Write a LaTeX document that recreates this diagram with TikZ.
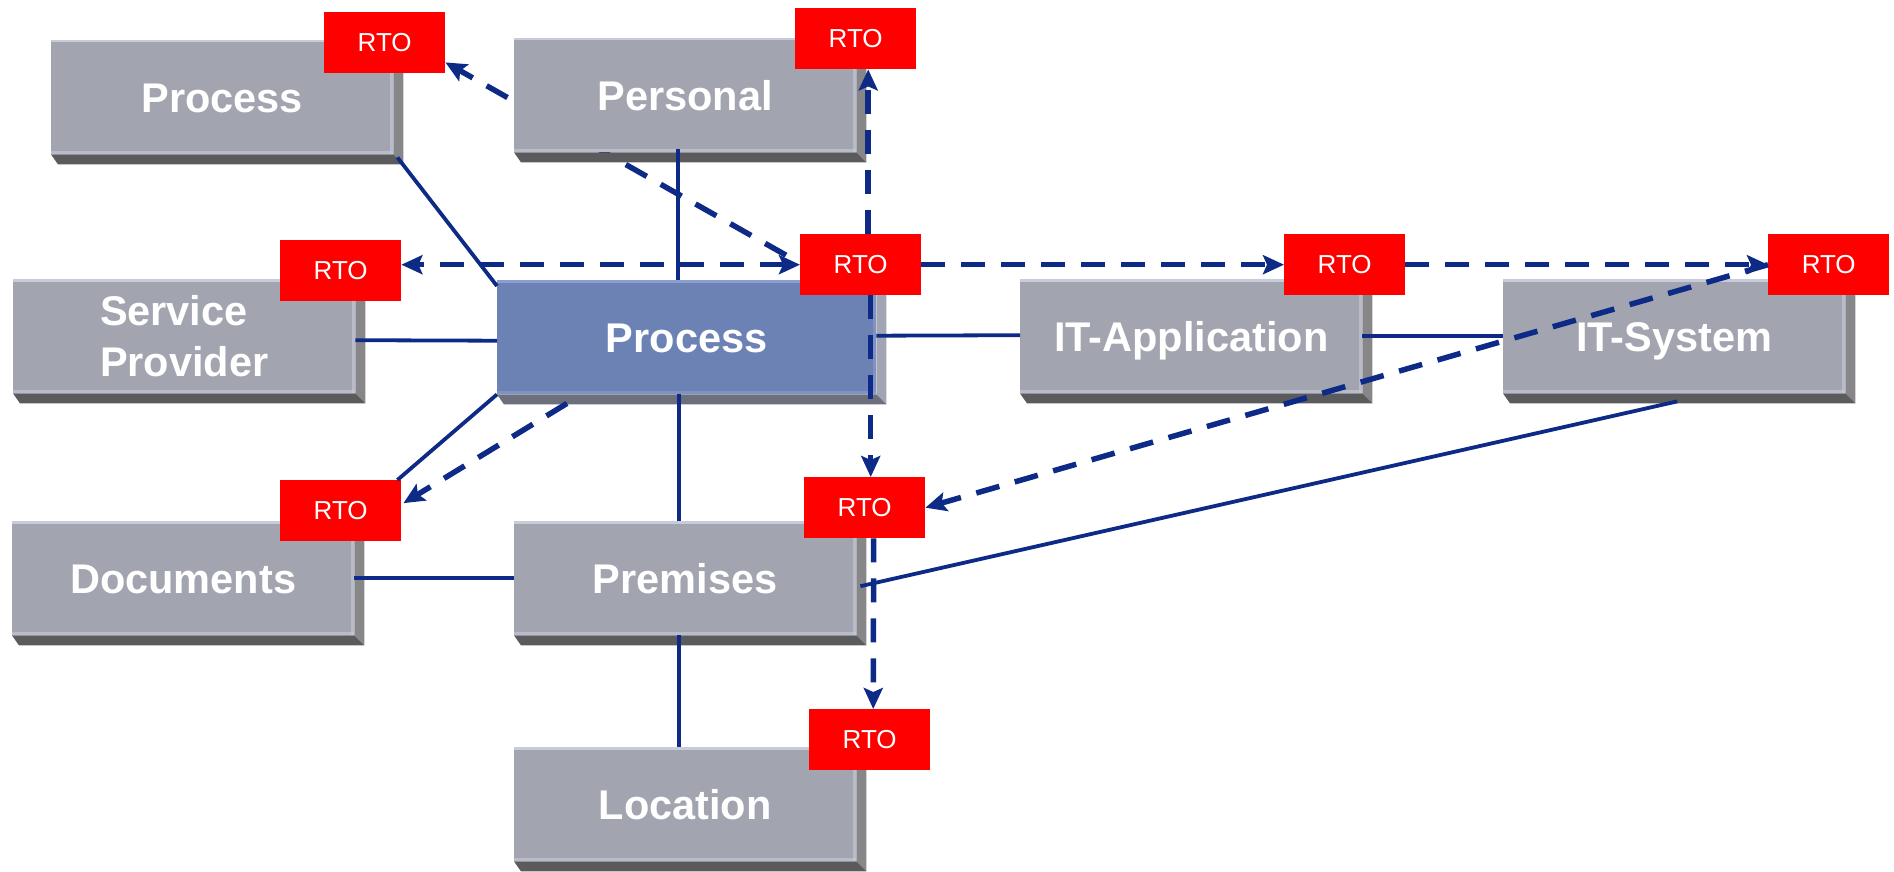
\documentclass[tikz,border=0pt]{standalone}
\usepackage{fontspec}
\setmainfont{Liberation Sans}
\usetikzlibrary{arrows.meta,calc}

\definecolor{facegray}{RGB}{162,164,176}
\definecolor{faceblue}{RGB}{108,130,180}
\definecolor{sidegray}{RGB}{135,135,138}
\definecolor{basegray}{RGB}{91,91,93}
\definecolor{sideblue}{RGB}{162,165,180}
\definecolor{baseblue}{RGB}{108,111,124}
\definecolor{hilite}{RGB}{200,203,218}
\definecolor{hiliteblue}{RGB}{140,158,205}
\definecolor{linkblue}{RGB}{14,42,135}
\definecolor{rtored}{RGB}{255,0,0}

\pgfdeclarelayer{background}
\pgfsetlayers{background,main}

\tikzset{
  block/.style={fill=facegray, minimum width=342pt, minimum height=114pt,
    anchor=north west, inner sep=0pt, text=white, align=left,
    font=\bfseries\fontsize{41.5}{51}\selectfont},
  oneline/.style={text height=29.7pt, text depth=0pt},
  mainblock/.style={block, fill=faceblue, minimum width=379pt},
  rto/.style={fill=rtored, minimum width=121pt, minimum height=61pt,
    anchor=north west, inner sep=0pt, text=white,
    font=\fontsize{26}{30}\selectfont},
  link/.style={draw=linkblue, line width=3.8pt},
  deplink/.style={draw=linkblue, line width=5.5pt, dash pattern=on 24pt off 16pt},
  arrowend/.style={-{Stealth[length=21pt,width=19pt,inset=4pt]}},
  arrowboth/.style={{Stealth[length=21pt,width=19pt,inset=4pt]}-{Stealth[length=21pt,width=19pt,inset=4pt]}}
}

% 3D edge of a block: side and base faces plus light bevel lines
\newcommand\extrude[4]{%
  \fill[#2] (#1.north east) -- ++(10,10) -- ($(#1.south east)+(10,10)$) -- (#1.south east) -- cycle;
  \fill[#3] (#1.south west) -- (#1.south east) -- ++(10,10) -- ($(#1.south west)+(7,10)$) -- cycle;
  \fill[#4] (#1.north west) rectangle ($(#1.north east)+(0,2.5)$);
  \fill[#4,opacity=.6] ($(#1.north east)+(-3,0)$) rectangle (#1.south east);
  \fill[#4,opacity=.6] ($(#1.south west)+(0,-3)$) rectangle (#1.south east);
}

\begin{document}
\begin{tikzpicture}[x=1pt,y=-1pt]
\useasboundingbox (0,0) rectangle (1894,872);

% blocks
\node[block,oneline] (proctl) at (51,40) {Process};
\node[block,oneline] (personal) at (514,38) {Personal};
\node[block] (service) at (13,279) {Service\\Provider};
\node[mainblock,oneline] (procc) at (497,280) {Process};
\node[block,oneline] (itapp) at (1020,279) {IT-Application};
\node[block,oneline] (itsys) at (1503,279) {IT-System};
\node[block,oneline] (docs) at (12,521) {Documents};
\node[block,oneline] (premises) at (514,521) {Premises};
\node[block,oneline] (location) at (514,747) {Location};

\extrude{proctl}{sidegray}{basegray}{hilite}
\extrude{personal}{sidegray}{basegray}{hilite}
\extrude{service}{sidegray}{basegray}{hilite}
\extrude{procc}{sideblue}{baseblue}{hiliteblue}
\extrude{itapp}{sidegray}{basegray}{hilite}
\extrude{itsys}{sidegray}{basegray}{hilite}
\extrude{docs}{sidegray}{basegray}{hilite}
\extrude{premises}{sidegray}{basegray}{hilite}
\extrude{location}{sidegray}{basegray}{hilite}

% RTO tags
\node[rto] (r1) at (324,12) {RTO};
\node[rto] (r2) at (795,8) {RTO};
\node[rto] (r3) at (280,240) {RTO};
\node[rto] (r4) at (800,234) {RTO};
\node[rto] (r5) at (1284,234) {RTO};
\node[rto] (r6) at (1768,234) {RTO};
\node[rto] (r7) at (280,480) {RTO};
\node[rto] (r8) at (804,477) {RTO};
\node[rto] (r9) at (809,709) {RTO};

% dependencies
\draw[link] ($(proctl.south east)+(4,3)$) -- ($(procc.north west)+(0,6)$);
\draw[link] ($(personal.south)+(-7,-3)$) -- ($(procc.north)+(-8.5,0)$);
\draw[link] ($(service.east)+(0,4)$) -- ($(procc.west)+(0,3.5)$);
\draw[link] ($(procc.east)+(0,-1.5)$) -- ($(itapp.west)+(0,-1)$);
\draw[link] (itapp.east) -- (itsys.west);
\draw[link] ($(procc.south)+(-7.5,0)$) -- ($(premises.north)+(-6,0)$);
\draw[link] (procc.south west) -- ($(r7.north east)+(-4,0)$);
\draw[link] (docs.east) -- (premises.west);
\draw[link] ($(premises.south)+(-6,0)$) -- ($(location.north)+(-6,0)$);
\draw[link] ($(premises.east)+(4,8)$) -- ($(itsys.south)+(3,8)$);

% RTO propagation
\begin{pgfonlayer}{background}
\draw[deplink, arrowend] ($(r4.west)+(-14,-9.5)$) -- ($(r1.south east)+(0,-11)$);
\end{pgfonlayer}
\draw[deplink, arrowboth] (r4.west) -- (r4.west -| r3.east);
\draw[deplink, arrowend] (r4.east) -- (r5.west);
\draw[deplink, arrowend] (r5.east) -- (r6.west);
\draw[deplink, arrowend] ($(r4.north)+(7.5,0)$) -- ($(r2.south)+(12.5,0)$);
\draw[deplink, arrowend] ($(r4.south)+(10,0)$) -- ($(r8.north)+(6,0)$);
\draw[deplink, arrowend] ($(r8.south)+(9,0)$) -- ($(r9.north)+(3.5,0)$);
\draw[deplink, arrowend] ($(procc.south west)+(70,9)$) -- ($(r7.east)+(2,-7.5)$);
\draw[deplink, arrowend] (r6.west) -- (r8.east);
\end{tikzpicture}
\end{document}
